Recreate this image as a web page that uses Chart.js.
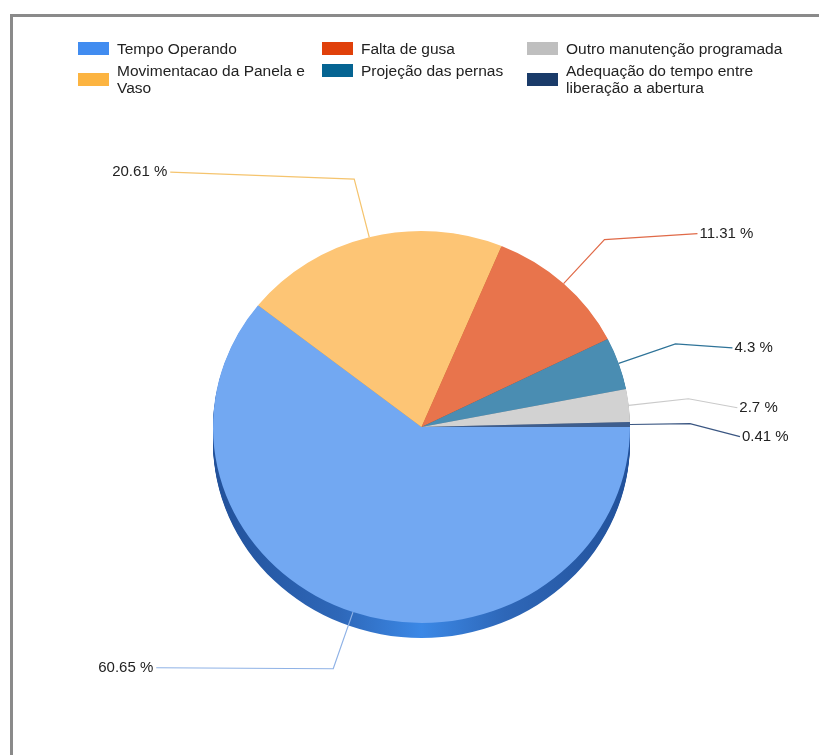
<!DOCTYPE html>
<html>
<head>
<meta charset="utf-8">
<script src="https://cdn.jsdelivr.net/npm/chart.js@4.4.1/dist/chart.umd.min.js"></script>
<style>
  html, body { margin: 0; padding: 0; background: #fff; width: 819px; height: 755px; overflow: hidden; }
  #frame { position: absolute; left: 10px; top: 14px; width: 840px; height: 800px; border: 3px solid #8a8a8a; box-sizing: border-box; }
  #c { position: absolute; left: 0; top: 0; }
  #legend { position: absolute; left: 0; top: 0; font-family: "Liberation Sans", Arial, sans-serif; font-size: 15.5px; line-height: 17px; color: #222; }
  .item { position: absolute; display: flex; align-items: center; }
  .sw { width: 31px; height: 13px; flex: none; margin-right: 8px; }
  .tx { white-space: normal; }
</style>
</head>
<body>
<div id="frame"></div>
<canvas id="c" width="819" height="755"></canvas>
<div id="legend"></div>
<script>
const categories = [
  "Tempo Operando",
  "Movimentacao da Panela e Vaso",
  "Falta de gusa",
  "Projeção das pernas",
  "Outro manutenção programada",
  "Adequação do tempo entre liberação a abertura"
];
const values = [60.65, 20.61, 11.31, 4.3, 2.7, 0.41];
const legendColors = ["#418CF0", "#FCB441", "#E0400A", "#056492", "#BFBFBF", "#1A3B69"];
const faceColors = ["#72A8F2", "#FDC575", "#E8744C", "#4A8DB2", "#D2D2D2", "#3E5E8E"];
const rimColors = ["#2F68B8", "#C8913A", "#B0451E", "#2A5F80", "#A0A0A0", "#1E3558"];
const lineColors = ["#8FB2E6", "#F5C46E", "#E06A48", "#2E7398", "#CACACA", "#3A5682"];

// layout (styling, not data)
const SY = 0.94;       // vertical squash of pie face
const DEPTH = 15;      // rim depth in px
const EXT = 60;        // leader line radial extension
const labelOffsets = [[-177, -1], [-184, -7], [93, -6], [57, 4], [49, 9], [50, 13]];
const legendCols = [{x: 78, w: 200}, {x: 322, w: 170}, {x: 527, w: 225}];
const legendRows = [40, 62];

// HTML legend (column-major, 2 rows)
const legend = document.getElementById('legend');
categories.forEach((name, i) => {
  const col = legendCols[Math.floor(i / 2)];
  const top = legendRows[i % 2];
  const it = document.createElement('div');
  it.className = 'item';
  it.style.left = col.x + 'px';
  it.style.top = top + 'px';
  const sw = document.createElement('div');
  sw.className = 'sw';
  sw.style.background = legendColors[i];
  const tx = document.createElement('div');
  tx.className = 'tx';
  tx.style.width = col.w + 'px';
  tx.textContent = name;
  it.appendChild(sw); it.appendChild(tx);
  legend.appendChild(it);
});

const piePlugin = {
  id: 'pie3d',
  beforeDatasetsDraw(chart) {
    const ctx = chart.ctx;
    const arcs = chart.getDatasetMeta(0).data;
    if (!arcs.length) return;
    const cx = arcs[0].x, cy = arcs[0].y, r = arcs[0].outerRadius;
    ctx.save();
    ctx.translate(cx, cy); ctx.scale(1, SY); ctx.translate(-cx, -cy);
    // rim / extrusion
    const grad = ctx.createLinearGradient(cx - r, 0, cx + r, 0);
    grad.addColorStop(0, '#22519a');
    grad.addColorStop(0.3, '#2e67b8');
    grad.addColorStop(0.5, '#3b88e6');
    grad.addColorStop(0.7, '#2e67b8');
    grad.addColorStop(1, '#22519a');
    for (let d = DEPTH; d >= 1; d--) {
      const off = d / SY;
      arcs.forEach((a, i) => {
        ctx.beginPath();
        ctx.moveTo(a.x, a.y + off);
        ctx.arc(a.x, a.y + off, a.outerRadius, a.startAngle, a.endAngle);
        ctx.closePath();
        ctx.fillStyle = i === 0 ? grad : rimColors[i];
        ctx.fill();
      });
    }
  },
  afterDatasetsDraw(chart) {
    chart.ctx.restore();
  },
  afterDraw(chart) {
    const ctx = chart.ctx;
    const arcs = chart.getDatasetMeta(0).data;
    ctx.save();
    ctx.font = '15px "Liberation Sans", Arial, sans-serif';
    ctx.textBaseline = 'middle';
    arcs.forEach((a, i) => {
      const m = (a.startAngle + a.endAngle) / 2;
      const ax = a.x + a.outerRadius * Math.cos(m);
      const ay = a.y + a.outerRadius * SY * Math.sin(m);
      const ex = ax + EXT * Math.cos(m);
      const ey = ay + EXT * Math.sin(m);
      const [dx, dy] = labelOffsets[i];
      const lx = ex + dx, ly = ey + dy;
      ctx.strokeStyle = lineColors[i];
      ctx.lineWidth = 1.2;
      ctx.beginPath();
      ctx.moveTo(ax, ay); ctx.lineTo(ex, ey); ctx.lineTo(lx, ly);
      ctx.stroke();
      ctx.fillStyle = '#222';
      const txt = chart.data.datasets[0].data[i] + ' %';
      if (dx < 0) { ctx.textAlign = 'right'; ctx.fillText(txt, lx - 3, ly); }
      else { ctx.textAlign = 'left'; ctx.fillText(txt, lx + 2, ly); }
    });
    ctx.restore();
  }
};

new Chart(document.getElementById('c'), {
  type: 'pie',
  data: {
    labels: categories,
    datasets: [{
      data: values,
      backgroundColor: faceColors,
      borderWidth: 0
    }]
  },
  options: {
    responsive: false,
    animation: false,
    rotation: 90,
    layout: { padding: { left: 213, right: 189, top: 218.5, bottom: 119.5 } },
    plugins: { legend: { display: false }, tooltip: { enabled: false } }
  },
  plugins: [piePlugin]
});
</script>
</body>
</html>
